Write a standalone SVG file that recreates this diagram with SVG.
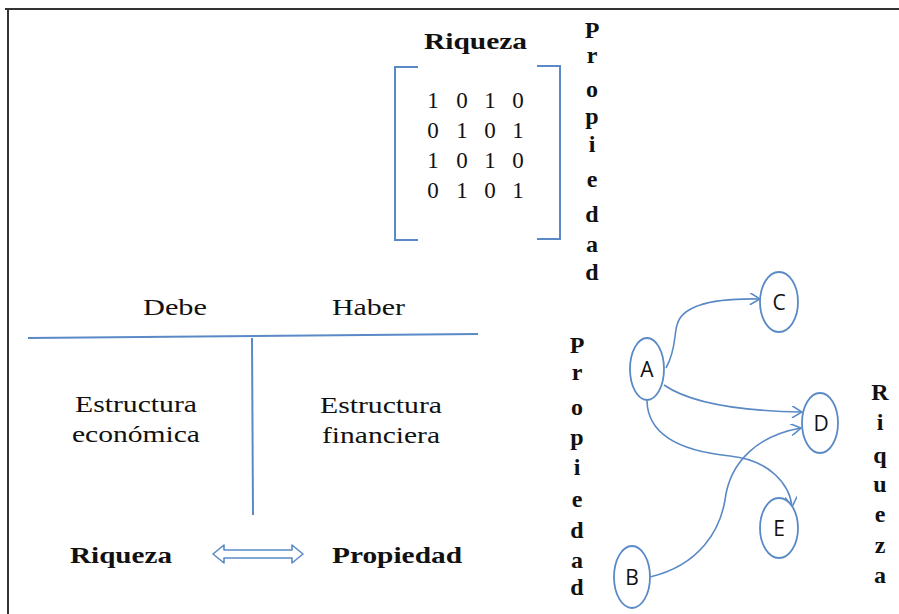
<svg xmlns="http://www.w3.org/2000/svg" width="899" height="614" viewBox="0 0 899 614">
<style>
.t{font-family:"Liberation Serif","Times New Roman",serif;font-size:24px;fill:#111}
.b{font-weight:bold}
.v{font-family:"Liberation Serif","Times New Roman",serif;font-size:24px;font-weight:bold;fill:#111;text-anchor:middle}
.m{font-family:"Liberation Serif","Times New Roman",serif;font-size:23px;fill:#111;text-anchor:middle}
.ln{stroke:#5A8AC6;stroke-width:2;fill:none}
.cv{stroke:#5A8AC6;stroke-width:1.6;fill:none}
.nd{fill:#fff;stroke:#5A8AC6;stroke-width:1.8}
.nl{font-family:"Open Sans","Liberation Sans",sans-serif;font-size:21px;fill:#111;text-anchor:middle}
</style>
<defs>
<marker id="ah" viewBox="0 0 12 12" refX="11" refY="6" markerWidth="12" markerHeight="12" markerUnits="userSpaceOnUse" orient="auto">
<path d="M1,0 L11,6 L1,12" fill="none" stroke="#5A8AC6" stroke-width="1.6"/>
</marker>
</defs>
<rect width="899" height="614" fill="#fff"/>
<g id="border" fill="none" stroke="#333" stroke-width="2">
<path d="M5,9 H899"/>
<path d="M8,9 V614"/>
</g>
<g id="matrix">
<text class="t b" x="424" y="49" textLength="103" lengthAdjust="spacingAndGlyphs">Riqueza</text>
<path class="ln" d="M418,67 H395 V240 H418"/>
<path class="ln" d="M537,66 H560 V239 H537"/>
<g class="m">
<text x="433" y="108">1</text><text x="462" y="108">0</text><text x="490" y="108">1</text><text x="518" y="108">0</text>
<text x="433" y="138">0</text><text x="462" y="138">1</text><text x="490" y="138">0</text><text x="518" y="138">1</text>
<text x="433" y="168">1</text><text x="462" y="168">0</text><text x="490" y="168">1</text><text x="518" y="168">0</text>
<text x="433" y="198">0</text><text x="462" y="198">1</text><text x="490" y="198">0</text><text x="518" y="198">1</text>
</g>
</g>
<g id="vprop-top" class="v">
<text x="592" y="38">P</text><text x="592" y="63">r</text><text x="592" y="97">o</text><text x="592" y="124">p</text><text x="592" y="152">i</text><text x="592" y="187">e</text><text x="592" y="222">d</text><text x="592" y="252">a</text><text x="592" y="280">d</text>
</g>
<g id="taccount">
<text class="t" x="143" y="315" textLength="64" lengthAdjust="spacingAndGlyphs">Debe</text>
<text class="t" x="332" y="315" textLength="73" lengthAdjust="spacingAndGlyphs">Haber</text>
<path class="ln" d="M28,338 L478,334"/>
<path class="ln" d="M252,338 L253,515"/>
<text class="t" x="75" y="412" textLength="122" lengthAdjust="spacingAndGlyphs">Estructura</text>
<text class="t" x="72" y="442" textLength="128" lengthAdjust="spacingAndGlyphs">económica</text>
<text class="t" x="320" y="413" textLength="122" lengthAdjust="spacingAndGlyphs">Estructura</text>
<text class="t" x="322" y="443" textLength="118" lengthAdjust="spacingAndGlyphs">financiera</text>
</g>
<g id="equivalence">
<text class="t b" x="70" y="563" textLength="102" lengthAdjust="spacingAndGlyphs">Riqueza</text>
<polygon points="213,554 224,545 224,550 292,550 292,545 303,554 292,563 292,558 224,558 224,563" fill="#fff" stroke="#5A8AC6" stroke-width="1.6" stroke-linejoin="round"/>
<text class="t b" x="332" y="563" textLength="130" lengthAdjust="spacingAndGlyphs">Propiedad</text>
</g>
<g id="vprop-left" class="v">
<text x="577" y="353">P</text><text x="577" y="380">r</text><text x="577" y="415">o</text><text x="577" y="445">p</text><text x="577" y="475">i</text><text x="577" y="507">e</text><text x="577" y="538">d</text><text x="577" y="568">a</text><text x="577" y="595">d</text>
</g>
<g id="vriq-right" class="v">
<text x="880" y="400">R</text><text x="880" y="430">i</text><text x="880" y="463">q</text><text x="880" y="492">u</text><text x="880" y="522">e</text><text x="880" y="553">z</text><text x="880" y="583">a</text>
</g>
<g id="connectors">
<path class="cv" marker-end="url(#ah)" d="M666,368 C676,350 674,335 677,325 C682,305 712,298 760,299"/>
<path class="cv" marker-end="url(#ah)" d="M664,385 C690,403 740,411 802,412"/>
<path class="cv" marker-end="url(#ah)" d="M647,401 C648,440 690,452 730,456 C770,460 790,485 792,507"/>
<path class="cv" marker-end="url(#ah)" d="M650,577 C700,565 720,530 725,500 C730,460 760,435 801,428"/>
</g>
<g id="node-A"><ellipse class="nd" cx="647" cy="369" rx="17" ry="31"/><text class="nl" x="647" y="377">A</text></g>
<g id="node-C"><ellipse class="nd" cx="779" cy="302" rx="19" ry="30"/><text class="nl" x="779" y="310">C</text></g>
<g id="node-D"><ellipse class="nd" cx="820" cy="423" rx="18" ry="30"/><text class="nl" x="821" y="431">D</text></g>
<g id="node-E"><ellipse class="nd" cx="779" cy="528" rx="19" ry="30"/><text class="nl" x="779" y="536">E</text></g>
<g id="node-B"><ellipse class="nd" cx="632" cy="577" rx="18" ry="31"/><text class="nl" x="632" y="585">B</text></g>
</svg>
